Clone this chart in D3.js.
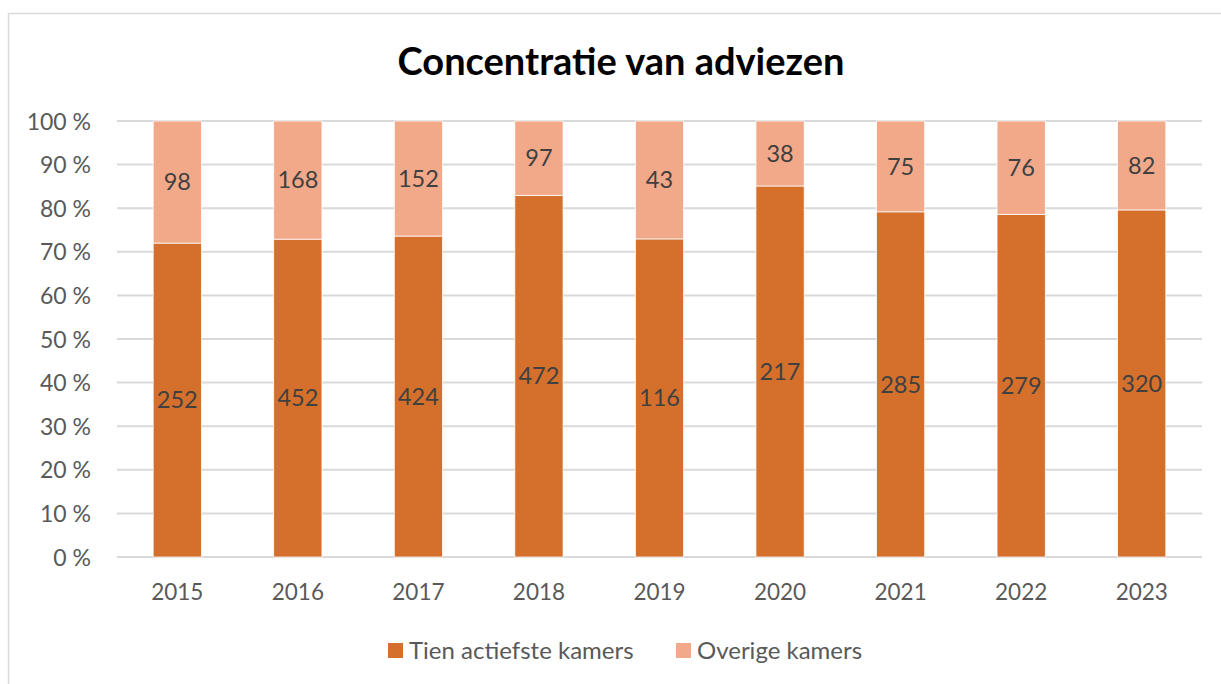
<!DOCTYPE html>
<html>
<head>
<meta charset="utf-8">
<script src="https://cdn.jsdelivr.net/npm/d3@7"></script>
<style>
  body { margin: 0; background: #fff; }
  svg text { font-family: Lato, "Open Sans", sans-serif; }
</style>
</head>
<body>
<svg id="chart" width="1221" height="684"></svg>
<script>
const years = ['2015','2016','2017','2018','2019','2020','2021','2022','2023'];
const tienActiefste = [252, 452, 424, 472, 116, 217, 285, 279, 320];
const overige = [98, 168, 152, 97, 43, 38, 75, 76, 82];
const seriesNames = ['Tien actiefste kamers', 'Overige kamers'];
const seriesColors = ['#d4702c', '#f2a98a'];
const yTicks = [0, 0.1, 0.2, 0.3, 0.4, 0.5, 0.6, 0.7, 0.8, 0.9, 1];

const opts = { left: 117, right: 1202, top: 121, bottom: 557 };

const svg = d3.select('#chart');

// chart frame
svg.append('rect')
  .attr('x', 8.5).attr('y', 13.5)
  .attr('width', 1240).attr('height', 700)
  .attr('fill', 'none')
  .attr('stroke', '#d9d9d9')
  .attr('stroke-width', 1.5);

svg.append('text')
  .text('Concentratie van adviezen')
  .attr('x', 621).attr('y', 75)
  .attr('text-anchor', 'middle')
  .attr('font-size', 38)
  .attr('font-weight', 'bold')
  .attr('fill', '#000');

const x = d3.scaleBand().domain(years).range([opts.left, opts.right]).paddingInner(0.6).paddingOuter(0.3);
const y = d3.scaleLinear().domain([0, 1]).range([opts.bottom, opts.top]);

// gridlines
svg.append('g').attr('id', 'grid')
  .selectAll('line')
  .data(yTicks)
  .join('line')
    .attr('x1', opts.left).attr('x2', opts.right)
    .attr('y1', d => y(d)).attr('y2', d => y(d))
    .attr('stroke', '#d9d9d9')
    .attr('stroke-width', 2);

// y axis labels
const yAxis = svg.append('g')
  .attr('transform', `translate(${opts.left - 26} 0)`)
  .call(d3.axisLeft(y).tickValues(yTicks).tickSize(0).tickFormat(d => `${Math.round(d * 100)} %`));
yAxis.select('.domain').remove();
yAxis.selectAll('text')
  .attr('font-size', 23)
  .attr('fill', '#595959')
  .attr('dy', '0.35em')
  .attr('x', 0);

// x axis labels
const xAxis = svg.append('g')
  .attr('transform', `translate(0 ${opts.bottom + 24})`)
  .call(d3.axisBottom(x).tickSize(0));
xAxis.select('.domain').remove();
xAxis.selectAll('text')
  .attr('font-size', 22.5)
  .attr('fill', '#595959')
  .attr('dy', '0.7em');

// stacked shares
const rows = years.map((yr, i) => {
  const total = tienActiefste[i] + overige[i];
  return { year: yr, values: [tienActiefste[i], overige[i]], total: total };
});
const segs = [];
rows.forEach(r => {
  let acc = 0;
  r.values.forEach((v, k) => {
    segs.push({ year: r.year, value: v, k: k, y0: acc / r.total, y1: (acc + v) / r.total });
    acc += v;
  });
});

const bars = svg.append('g').attr('id', 'bars');
bars.selectAll('rect')
  .data(segs)
  .join('rect')
    .attr('x', d => x(d.year))
    .attr('width', x.bandwidth())
    .attr('y', d => y(d.y1))
    .attr('height', d => y(d.y0) - y(d.y1))
    .attr('fill', d => seriesColors[d.k])
    .attr('stroke', '#fff')
    .attr('stroke-width', 0.75);

bars.selectAll('text')
  .data(segs)
  .join('text')
    .text(d => d.value)
    .attr('x', d => x(d.year) + x.bandwidth() / 2)
    .attr('y', d => (y(d.y0) + y(d.y1)) / 2)
    .attr('dy', '0.35em')
    .attr('text-anchor', 'middle')
    .attr('font-size', 23.5)
    .attr('fill', '#404040');

// legend
const legend = svg.append('g').attr('id', 'legend');
const legendX = [388, 676];
seriesNames.forEach((name, k) => {
  legend.append('rect')
    .attr('x', legendX[k]).attr('y', 643)
    .attr('width', 15).attr('height', 15)
    .attr('fill', seriesColors[k]);
  legend.append('text')
    .text(name)
    .attr('x', legendX[k] + 21).attr('y', 650.5)
    .attr('dy', '0.35em')
    .attr('font-size', 24)
    .attr('fill', '#595959');
});
</script>
</body>
</html>
